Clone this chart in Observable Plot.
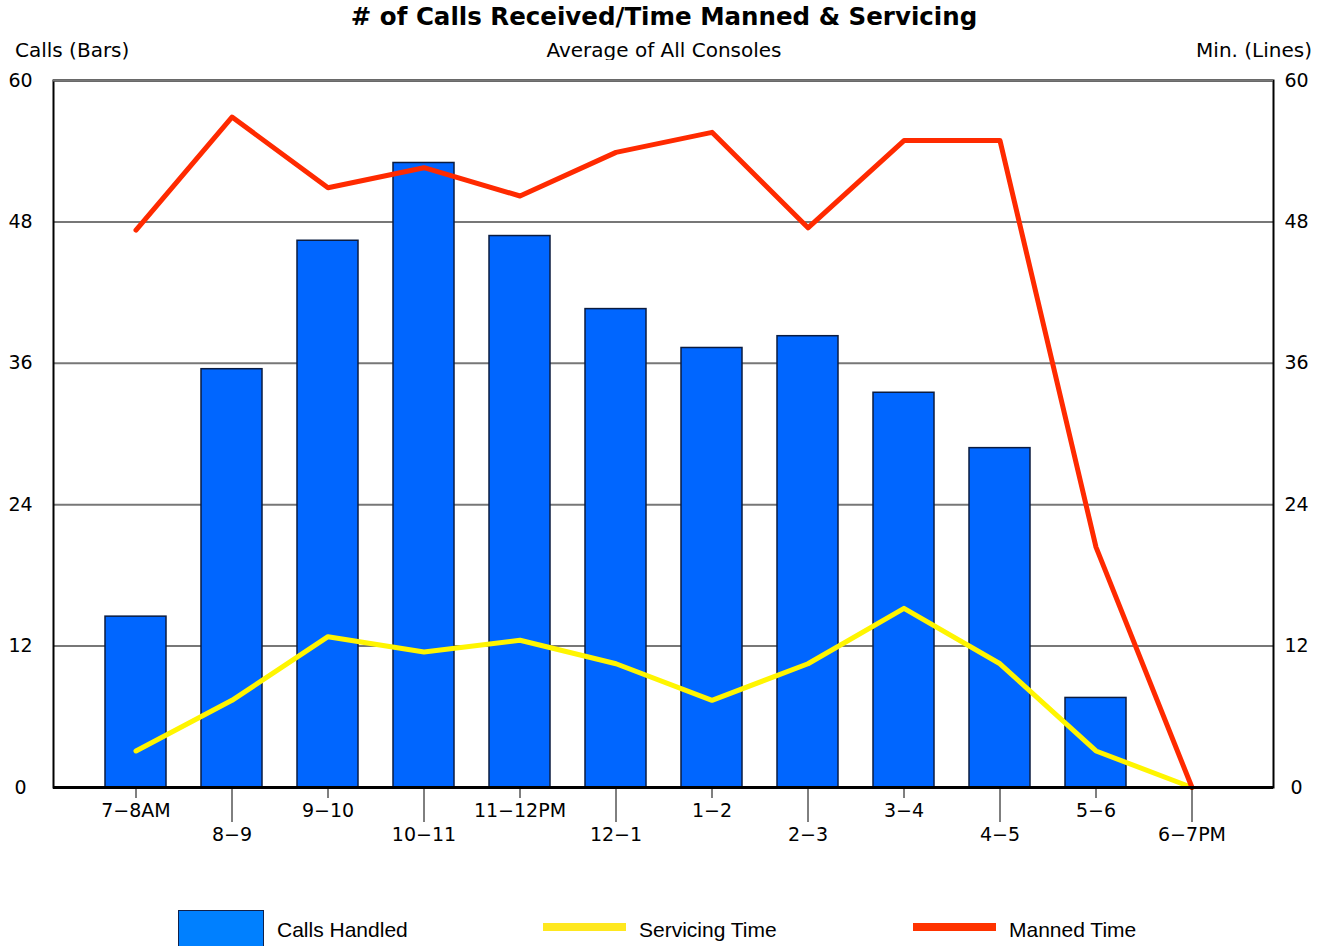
<!DOCTYPE html>
<html>
<head>
<meta charset="utf-8">
<script src="https://cdn.jsdelivr.net/npm/d3@7"></script>
<script src="https://cdn.jsdelivr.net/npm/@observablehq/plot@0.6"></script>
<style>
  body { margin: 0; background: #fff; }
  #wrap { position: relative; width: 1328px; height: 946px; overflow: hidden; font-family: "DejaVu Sans", Verdana, sans-serif; color: #000; }
  .abs { position: absolute; white-space: nowrap; }
  #title { left: 0; width: 1328px; top: 2px; text-align: center; font-weight: bold; font-size: 24.5px; }
  #sub { left: 0; width: 1328px; top: 38px; text-align: center; font-size: 20px; }
  #lefttitle { left: 15px; top: 38px; font-size: 20px; }
  #righttitle { right: 16px; top: 38px; font-size: 20px; }
  #chart { position: absolute; left: 0; top: 60px; }
  .leg { font-family: "Liberation Sans Narrow", "Liberation Sans", sans-serif; font-size: 21px; top: 918px; }
  .sw { position: absolute; }
</style>
</head>
<body>
<div id="wrap">
  <div id="title" class="abs"># of Calls Received/Time Manned &amp; Servicing</div>
  <div id="sub" class="abs">Average of All Consoles</div>
  <div id="lefttitle" class="abs">Calls (Bars)</div>
  <div id="righttitle" class="abs">Min. (Lines)</div>
  <div id="chart"></div>
  <div class="sw" style="left:178px; top:910px; width:84px; height:40px; background:#0080FF; border:1px solid #10204a;"></div>
  <div class="abs leg" style="left:277px;">Calls Handled</div>
  <div class="sw" style="left:543px; top:923px; width:83px; height:8px; background:#FFE81F;"></div>
  <div class="abs leg" style="left:639px;">Servicing Time</div>
  <div class="sw" style="left:913px; top:923px; width:83px; height:8px; background:#FF3300;"></div>
  <div class="abs leg" style="left:1009px;">Manned Time</div>
</div>
<script>
const categories = ["7−8AM","8−9","9−10","10−11","11−12PM","12−1","1−2","2−3","3−4","4−5","5−6","6−7PM"];
const callsHandled = [14.5, 35.5, 46.4, 53.0, 46.8, 40.6, 37.3, 38.3, 33.5, 28.8, 7.6, 0];
const mannedTime = [47.3, 56.9, 50.9, 52.6, 50.2, 53.9, 55.6, 47.5, 54.9, 54.9, 20.4, 0];
const servicingTime = [3.1, 7.4, 12.8, 11.5, 12.5, 10.5, 7.4, 10.5, 15.2, 10.5, 3.1, 0];
const yTicks = [0, 12, 24, 36, 48, 60];

const rows = categories.map((c, i) => ({cat: c, calls: callsHandled[i], manned: mannedTime[i], serv: servicingTime[i]}));
const oddCats = categories.filter((c, i) => i % 2 === 0);
const evenCats = categories.filter((c, i) => i % 2 === 1);

const chart = Plot.plot({
  width: 1328,
  height: 800,
  marginLeft: 53,
  marginRight: 55,
  marginTop: 20,
  marginBottom: 73,
  style: {fontFamily: "DejaVu Sans, Verdana, sans-serif", fontSize: "19px", color: "#000", background: "#fff"},
  x: {domain: categories, paddingInner: 0.367, paddingOuter: 0.518, label: null},
  y: {domain: [0, 60], label: null},
  marks: [
    Plot.gridY(yTicks, {stroke: "#777", strokeOpacity: 1, strokeWidth: 2}),
    Plot.barY(rows.filter(d => d.calls > 0), {x: "cat", y: "calls", fill: "#0066FF", stroke: "#0b1c40", strokeWidth: 1.5}),
    Plot.lineY(rows, {x: "cat", y: "serv", stroke: "#FFF500", strokeWidth: 5}),
    Plot.lineY(rows, {x: "cat", y: "manned", stroke: "#FF2A00", strokeWidth: 5}),
    Plot.frame({stroke: "#000", strokeWidth: 2}),
    Plot.gridY([60], {stroke: "#777", strokeOpacity: 1, strokeWidth: 2}),
    Plot.ruleY([0], {stroke: "#000", strokeWidth: 3}),
    Plot.axisY(yTicks, {anchor: "left", tickSize: 0, tickPadding: 33, textAnchor: "middle", fontSize: 19, label: null}),
    Plot.axisY(yTicks, {anchor: "right", tickSize: 0, tickPadding: 23, textAnchor: "middle", fontSize: 19, label: null}),
    Plot.axisX(oddCats, {anchor: "bottom", tickSize: 11, tickPadding: 5, stroke: "#000", fontSize: 19, label: null}),
    Plot.axisX(evenCats, {anchor: "bottom", tickSize: 35, tickPadding: 5, stroke: "#000", fontSize: 19, label: null})
  ]
});
document.getElementById("chart").appendChild(chart);
</script>
</body>
</html>
